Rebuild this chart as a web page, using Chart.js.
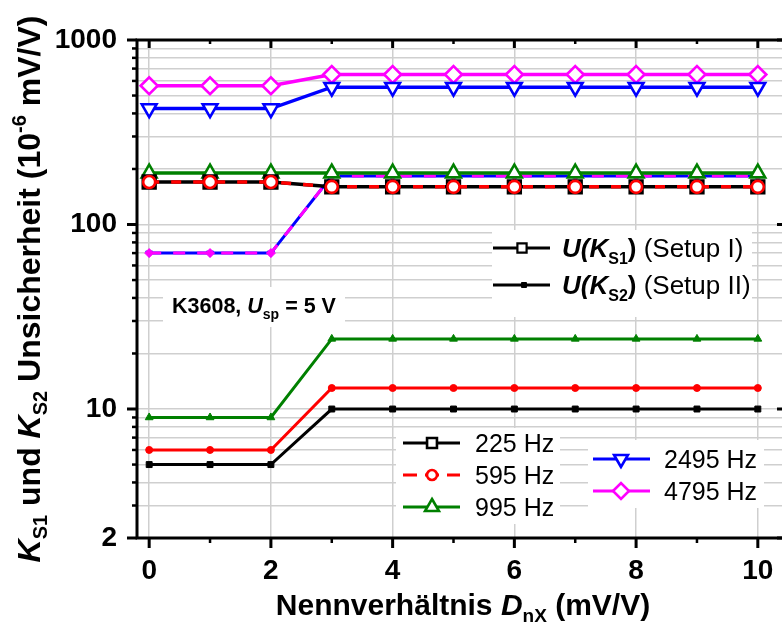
<!DOCTYPE html>
<html>
<head>
<meta charset="utf-8">
<script src="https://cdn.jsdelivr.net/npm/chart.js@4.4.1/dist/chart.umd.min.js"></script>
<style>
  html, body { margin: 0; padding: 0; background: #fff; overflow: hidden; }
  #wrap { width: 782px; height: 627px; overflow: hidden; }
</style>
</head>
<body>
<div id="wrap"><canvas id="c" width="800" height="627"></canvas></div>
<script>
const FONT = "'Liberation Sans', Arial, sans-serif";

// nominal ratio D_nX (mV/V)
const xVals = [0, 1, 2, 3, 4, 5, 6, 7, 8, 9, 10];
const xTicks = [0, 1, 2, 3, 4, 5, 6, 7, 8, 9, 10];
const xLabelled = [0, 2, 4, 6, 8, 10];
const yTicks = [2, 3, 4, 5, 6, 7, 8, 9, 10, 20, 30, 40, 50, 60, 70, 80, 90,
                100, 200, 300, 400, 500, 600, 700, 800, 900, 1000];
const yLabelled = [2, 10, 100, 1000];
const freqNames = ['225 Hz', '595 Hz', '995 Hz', '2495 Hz', '4795 Hz'];

// U(K_S1), Setup I
const s1_225  = [170, 170, 170, 160, 160, 160, 160, 160, 160, 160, 160];
const s1_595  = [170, 170, 170, 160, 160, 160, 160, 160, 160, 160, 160];
const s1_995  = [190, 190, 190, 190, 190, 190, 190, 190, 190, 190, 190];
const s1_2495 = [425, 425, 425, 555, 555, 555, 555, 555, 555, 555, 555];
const s1_4795 = [565, 565, 565, 650, 650, 650, 650, 650, 650, 650, 650];

// U(K_S2), Setup II
const s2_225  = [5, 5, 5, 10, 10, 10, 10, 10, 10, 10, 10];
const s2_595  = [6, 6, 6, 13, 13, 13, 13, 13, 13, 13, 13];
const s2_995  = [9, 9, 9, 24, 24, 24, 24, 24, 24, 24, 24];
const s2_2495 = [70, 70, 70, 183, 183, 183, 183, 183, 183, 183, 183];
const s2_4795 = [70, 70, 70, 183, 183, 183, 183, 183, 183, 183, 183];

const BLACK = '#000000', RED = '#ff0000', GREEN = '#008000', BLUE = '#0000ff', MAG = '#ff00ff';

const pts = arr => xVals.map((x, i) => ({ x: x, y: arr[i] }));

function setup1(label, arr, color, style, r, order, extra) {
  return Object.assign({
    label: label, data: pts(arr), borderColor: color, borderWidth: 3.5,
    pointStyle: style, pointRadius: r, pointBorderColor: color, pointBorderWidth: 2.6,
    pointBackgroundColor: '#ffffff', order: order
  }, extra || {});
}
function setup2(label, arr, color, style, r, order, extra) {
  return Object.assign({
    label: label, data: pts(arr), borderColor: color, borderWidth: 3,
    pointStyle: style, pointRadius: r, pointBorderColor: color, pointBorderWidth: 1,
    pointBackgroundColor: color, order: order
  }, extra || {});
}

const datasets = [
  setup1('225 Hz I', s1_225, BLACK, 'rect', 9, 2),
  setup1('595 Hz I', s1_595, RED, 'circle', 6, 1, { borderDash: [10, 12] }),
  setup1('995 Hz I', s1_995, GREEN, 'triangle', 8.5, 3),
  setup1('2495 Hz I', s1_2495, BLUE, 'triangle', 8.5, 4, { pointRotation: 180 }),
  setup1('4795 Hz I', s1_4795, MAG, 'rectRot', 8.5, 5),
  setup2('225 Hz II', s2_225, BLACK, 'rect', 4.2, 10),
  setup2('595 Hz II', s2_595, RED, 'circle', 3.5, 9),
  setup2('995 Hz II', s2_995, GREEN, 'triangle', 4.5, 8),
  setup2('2495 Hz II', s2_2495, BLUE, 'triangle', 4, 7, { pointRotation: 180 }),
  setup2('4795 Hz II', s2_4795, MAG, 'rectRot', 4.5, 6, { borderDash: [12, 12] })
];

// marker for the legend samples
function mark(ctx, style, x, y, r, color, fill, lw, rot) {
  ctx.save();
  ctx.translate(x, y);
  if (rot) ctx.rotate(rot * Math.PI / 180);
  ctx.beginPath();
  if (style === 'rect') {
    const s = r * Math.SQRT1_2;
    ctx.rect(-s, -s, 2 * s, 2 * s);
  } else if (style === 'circle') {
    ctx.arc(0, 0, r, 0, 2 * Math.PI);
  } else if (style === 'triangle') {
    for (let k = 0; k < 3; k++) {
      const a = k * 2 * Math.PI / 3;
      const px = Math.sin(a) * r, py = -Math.cos(a) * r;
      if (k === 0) ctx.moveTo(px, py); else ctx.lineTo(px, py);
    }
    ctx.closePath();
  } else if (style === 'rectRot') {
    ctx.moveTo(-r, 0); ctx.lineTo(0, -r); ctx.lineTo(r, 0); ctx.lineTo(0, r);
    ctx.closePath();
  }
  ctx.fillStyle = fill;
  ctx.fill();
  ctx.lineWidth = lw;
  ctx.strokeStyle = color;
  ctx.stroke();
  ctx.restore();
}

// text made of runs (italic, subscripts ...)
function rich(ctx, x, y, parts, align) {
  let w = 0;
  parts.forEach(p => { ctx.font = p.f; w += ctx.measureText(p.t).width; });
  let cx = align === 'center' ? x - w / 2 : x;
  parts.forEach(p => {
    ctx.font = p.f;
    ctx.fillText(p.t, cx, y + (p.dy || 0));
    cx += ctx.measureText(p.t).width;
  });
  return w;
}

function sampleLine(ctx, x0, x1, y, color, lw, dash) {
  ctx.save();
  ctx.beginPath();
  ctx.setLineDash(dash || []);
  ctx.moveTo(x0, y); ctx.lineTo(x1, y);
  ctx.lineWidth = lw; ctx.strokeStyle = color;
  ctx.stroke();
  ctx.restore();
}

const decor = {
  id: 'decor',
  afterDatasetsDraw(chart) {
    const ctx = chart.ctx;
    const a = chart.chartArea;
    const xs = chart.scales.x, ys = chart.scales.y;
    ctx.save();
    ctx.textBaseline = 'alphabetic';
    ctx.fillStyle = '#000';

    // annotation
    ctx.fillStyle = '#fff';
    ctx.fillRect(163, 287, 182, 40);
    ctx.fillStyle = '#000';
    rich(ctx, 172, 313, [
      { t: 'K3608, ', f: 'bold 21.5px ' + FONT },
      { t: 'U', f: 'italic bold 21.5px ' + FONT },
      { t: 'sp', f: 'bold 14px ' + FONT, dy: 6 },
      { t: ' = 5 V', f: 'bold 21.5px ' + FONT }
    ]);

    // setup legend
    ctx.fillStyle = '#fff';
    ctx.fillRect(492, 230, 260, 87);
    sampleLine(ctx, 493, 550, 248, BLACK, 3);
    mark(ctx, 'rect', 522, 248, 6.5, BLACK, '#fff', 2.2);
    sampleLine(ctx, 493, 550, 285, BLACK, 3);
    mark(ctx, 'rect', 524, 285, 3.5, BLACK, BLACK, 1);
    ctx.fillStyle = '#000';
    [['S1', ' (Setup I)', 257], ['S2', ' (Setup II)', 294]].forEach(r => {
      rich(ctx, 562, r[2], [
        { t: 'U(K', f: 'italic bold 26px ' + FONT },
        { t: r[0], f: 'bold 16px ' + FONT, dy: 7 },
        { t: ')', f: 'bold 26px ' + FONT },
        { t: r[1], f: '26px ' + FONT }
      ]);
    });

    // frequency legend
    ctx.fillStyle = '#fff';
    ctx.fillRect(396, 428, 164, 96);
    ctx.fillRect(588, 440, 176, 68);
    const leg = [
      [freqNames[0], BLACK, 'rect', 7, 0, null, 403, 460, 432, 475, 443],
      [freqNames[1], RED, 'circle', 5, 0, [14, 8], 403, 460, 432, 475, 475],
      [freqNames[2], GREEN, 'triangle', 8, 0, null, 403, 460, 432, 475, 507],
      [freqNames[3], BLUE, 'triangle', 8, 180, null, 593, 650, 621, 664, 459],
      [freqNames[4], MAG, 'rectRot', 8, 0, null, 593, 650, 621, 664, 491]
    ];
    leg.forEach(l => {
      sampleLine(ctx, l[6], l[7], l[10], l[1], 3, l[5]);
      mark(ctx, l[2], l[8], l[10], l[3], l[1], '#fff', 2.6, l[4]);
      ctx.fillStyle = '#000';
      ctx.font = '25px ' + FONT;
      ctx.fillText(l[0], l[9], l[10] + 9);
    });

    // frame
    ctx.strokeStyle = '#000';
    ctx.lineWidth = 3;
    ctx.strokeRect(a.left, a.top, a.right - a.left, a.bottom - a.top);

    // x ticks (bottom outward, top inward)
    xTicks.forEach(v => {
      const px = xs.getPixelForValue(v);
      const major = xLabelled.includes(v);
      ctx.lineWidth = major ? 3 : 2.5;
      ctx.beginPath();
      ctx.moveTo(px, a.bottom); ctx.lineTo(px, a.bottom + (major ? 10 : 5));
      ctx.moveTo(px, a.top); ctx.lineTo(px, a.top + (major ? 8 : 4));
      ctx.stroke();
    });
    // y ticks (left outward, right inward)
    yTicks.forEach(v => {
      const py = ys.getPixelForValue(v);
      const major = yLabelled.includes(v);
      ctx.lineWidth = major ? 3 : 2.5;
      ctx.beginPath();
      ctx.moveTo(a.left, py); ctx.lineTo(a.left - (major ? 10 : 5), py);
      if (major) { ctx.moveTo(a.right, py); ctx.lineTo(a.right - 7, py); }
      ctx.stroke();
    });

    // axis titles
    ctx.fillStyle = '#000';
    rich(ctx, 463, 615, [
      { t: 'Nennverhältnis ', f: 'bold 30px ' + FONT },
      { t: 'D', f: 'italic bold 30px ' + FONT },
      { t: 'nX', f: 'bold 19px ' + FONT, dy: 7 },
      { t: ' (mV/V)', f: 'bold 30px ' + FONT }
    ], 'center');
    ctx.save();
    ctx.translate(40, (a.top + a.bottom) / 2);
    ctx.rotate(-Math.PI / 2);
    rich(ctx, 0, 0, [
      { t: 'K', f: 'italic bold 32px ' + FONT },
      { t: 'S1', f: 'bold 20px ' + FONT, dy: 7 },
      { t: ' und ', f: 'bold 32px ' + FONT },
      { t: 'K', f: 'italic bold 32px ' + FONT },
      { t: 'S2', f: 'bold 20px ' + FONT, dy: 7 },
      { t: ' Unsicherheit (10', f: 'bold 32px ' + FONT },
      { t: '-6', f: 'bold 20px ' + FONT, dy: -14 },
      { t: ' mV/V)', f: 'bold 32px ' + FONT }
    ], 'center');
    ctx.restore();
    ctx.restore();
  }
};

new Chart(document.getElementById('c').getContext('2d'), {
  type: 'line',
  data: { datasets: datasets },
  options: {
    responsive: false,
    animation: false,
    events: [],
    layout: { padding: { left: 0, top: 40, right: 16, bottom: 0 } },
    plugins: { legend: { display: false }, tooltip: { enabled: false } },
    scales: {
      x: {
        type: 'linear', min: -0.2, max: 10.43,
        afterBuildTicks: s => { s.ticks = xTicks.map(v => ({ value: v })); },
        afterFit: s => { s.height = 89; },
        ticks: {
          autoSkip: false, maxRotation: 0, padding: 16, color: '#000',
          font: { family: FONT, size: 28, weight: 'bold' },
          callback: v => xLabelled.includes(v) ? String(v) : ''
        },
        grid: {
          drawTicks: false, lineWidth: 1.5,
          color: c => (c.tick && xLabelled.includes(c.tick.value)) ? '#cfcfcf' : 'rgba(0,0,0,0)'
        },
        border: { display: false }
      },
      y: {
        type: 'logarithmic', min: 2, max: 1000,
        afterBuildTicks: s => { s.ticks = yTicks.map(v => ({ value: v })); },
        afterFit: s => { s.width = 137; },
        ticks: {
          autoSkip: false, padding: 20, color: '#000',
          font: { family: FONT, size: 28, weight: 'bold' },
          callback: v => yLabelled.includes(v) ? String(v) : ''
        },
        grid: { drawTicks: false, lineWidth: 1.5, color: '#cfcfcf' },
        border: { display: false }
      }
    }
  },
  plugins: [decor]
});
</script>
</body>
</html>
